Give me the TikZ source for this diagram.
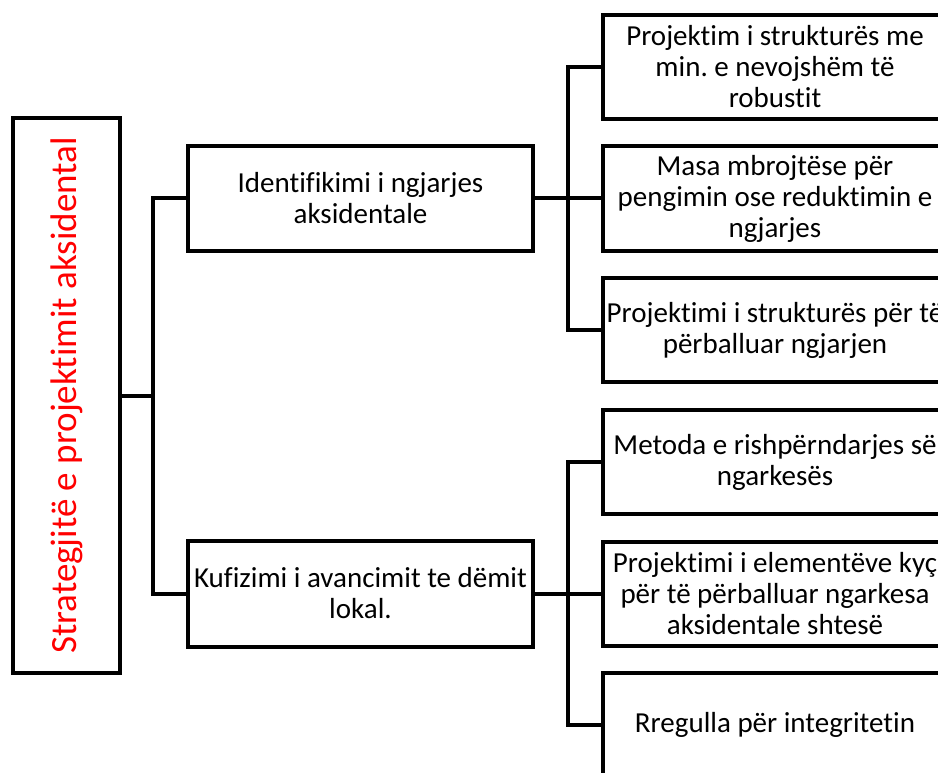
\documentclass[tikz,border=0pt]{standalone}
\usepackage{fontspec}
\setmainfont{Carlito}[Ligatures=NoCommon]
\begin{document}
\frenchspacing
\begin{tikzpicture}[x=1pt,y=-1pt,
  box/.style={draw, line width=4pt, minimum width=345pt, minimum height=104pt, inner sep=0pt, align=center, font=\fontsize{29}{31}\selectfont},
  conn/.style={line width=4pt, line join=miter}]
\useasboundingbox (0,0) rectangle (938,773);
\clip (0,0) rectangle (938,773);
\node[draw, line width=4pt, minimum width=107pt, minimum height=555pt, inner sep=0pt] (root) at (66.5,395.5) {};
\node[rotate=90, text=red, font=\fontsize{37}{42}\selectfont] (roottext) at (root.center) {Strategjitë e projektimit aksidental};
\node[box] (m1) at (360.5,198.5) {Identifikimi i ngjarjes\\aksidentale};
\node[box, minimum height=106pt] (m2) at (360.5,593.5) {Kufizimi i avancimit te dëmit\\lokal.};
\node[box] (r1) at (775,67) {Projektim i strukturës me\\min. e nevojshëm të\\robustit};
\node[box] (r2) at (775,198.5) {Masa mbrojtëse për\\pengimin ose reduktimin e\\ngjarjes};
\node[box] (r3) at (775,330) {Projektimi i strukturës për të\\përballuar ngjarjen};
\node[box] (r4) at (775,462) {Metoda e rishpërndarjes së\\ngarkesës};
\node[box] (r5) at (775,594) {Projektimi i elementëve kyç\\për të përballuar ngarkesa\\aksidentale shtesë};
\node[box] (r6) at (775,725) {Rregulla për integritetin};
\coordinate (j1) at (153,395.5);
\coordinate (j2) at (567.5,198.5);
\coordinate (j3) at (567.5,593.5);
\draw[conn] (root.east) -- (j1);
\draw[conn] (j1) |- (m1.west);
\draw[conn] (j1) |- (m2.west);
\draw[conn] (m1.east) -- (j2);
\draw[conn] (j2) |- (r1.west);
\draw[conn] (j2) |- (r2.west);
\draw[conn] (j2) |- (r3.west);
\draw[conn] (m2.east) -- (j3);
\draw[conn] (j3) |- (r4.west);
\draw[conn] (j3) |- (r5.west);
\draw[conn] (j3) |- (r6.west);
\end{tikzpicture}
\end{document}
